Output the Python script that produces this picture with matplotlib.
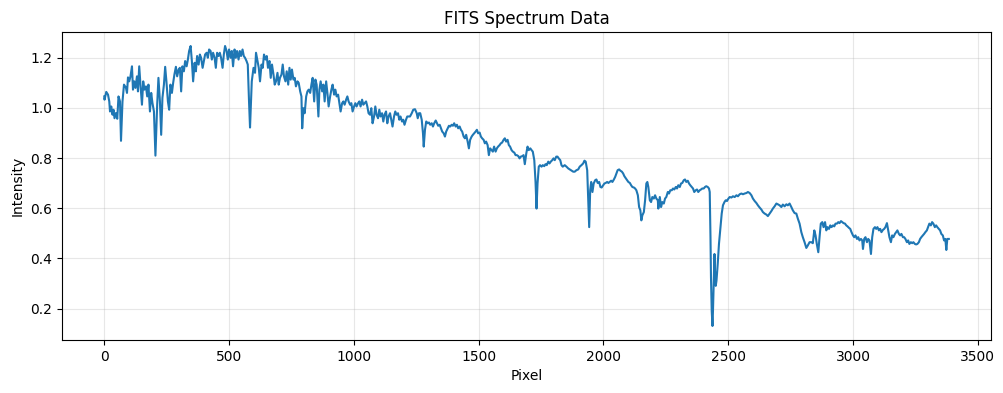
import numpy as np
import matplotlib
matplotlib.use("Agg")
import matplotlib.pyplot as plt

# Spectrum (pixel, intensity), in several segments
pix_a = [0, 1, 8, 15, 20, 23, 28, 33, 37, 41, 47, 52, 57, 63, 67, 73, 79, 87, 91, 95,
         100, 105, 111, 115, 120, 125, 131, 135, 140, 145, 151, 156, 161, 167, 172, 177,
         183, 188, 193, 199, 205, 212, 217, 223, 228, 233, 239, 244, 249, 255, 260, 265,
         271, 276, 281, 287, 292, 298, 303, 308, 313, 319, 324, 330, 335, 340, 346, 351,
         356, 362, 367, 372, 378, 383, 388, 394, 399, 404, 410, 415, 420, 426, 431, 436,
         442, 447, 452, 458, 463, 468, 474, 479, 484, 490, 495, 500, 506, 511, 516, 522,
         527, 532, 538, 543, 548, 554, 559, 564, 570, 575, 580, 584, 591, 598, 604]
int_a = [1.046, 1.033, 1.064, 1.053, 1.026, 0.986, 1.006, 0.973, 0.993, 0.959, 0.980,
         0.957, 1.046, 1.026, 0.869, 1.026, 1.093, 1.080, 1.060, 1.122, 1.106, 1.126,
         1.166, 1.073, 1.106, 1.080, 1.126, 1.066, 1.166, 1.093, 1.013, 1.106, 1.073,
         1.086, 1.046, 1.093, 0.986, 1.060, 1.020, 0.986, 0.810, 1.013, 1.120, 1.026,
         0.893, 1.040, 1.093, 1.164, 1.106, 1.026, 0.993, 1.093, 1.060, 1.100, 1.133,
         1.164, 1.126, 1.153, 1.160, 1.066, 1.166, 1.146, 1.187, 1.166, 1.193, 1.227,
         1.247, 1.187, 1.106, 1.180, 1.146, 1.207, 1.173, 1.213, 1.200, 1.160, 1.187,
         1.213, 1.220, 1.200, 1.233, 1.227, 1.193, 1.220, 1.200, 1.160, 1.220, 1.207,
         1.220, 1.200, 1.160, 1.213, 1.247, 1.227, 1.193, 1.233, 1.200, 1.227, 1.166,
         1.233, 1.200, 1.227, 1.193, 1.227, 1.207, 1.233, 1.207, 1.200, 1.187, 1.173,
         1.026, 0.922, 1.106, 1.160, 1.140]

pix_b = [608, 614, 619, 624, 630, 635, 640, 646, 651, 656, 662, 667, 672, 678, 683, 688,
         694, 699, 704, 710, 715, 720, 726, 731, 737, 742, 747, 752, 758, 763, 768, 774,
         779, 785, 790, 793, 798, 803, 809, 814, 819, 825, 830, 835, 841, 846, 851, 858,
         862, 867, 873, 878, 883, 889, 894, 899, 905, 910, 915, 921, 926, 931, 937, 942,
         947, 953, 958, 963, 969, 974, 979, 985, 990, 995, 1001, 1006, 1011, 1017, 1022,
         1027, 1033, 1038, 1043, 1049, 1054, 1059, 1065, 1070, 1075, 1081, 1086, 1091,
         1097, 1102, 1107, 1113, 1118, 1123, 1129, 1134, 1139, 1145, 1150, 1155, 1161,
         1166, 1171, 1177, 1182, 1187, 1193, 1198, 1203, 1209, 1214, 1219, 1225]
int_b = [1.220, 1.187, 1.160, 1.106, 1.173, 1.160, 1.213, 1.193, 1.207, 1.160, 1.187,
         1.120, 1.173, 1.133, 1.093, 1.106, 1.140, 1.093, 1.120, 1.133, 1.173, 1.126,
         1.106, 1.146, 1.093, 1.160, 1.113, 1.153, 1.113, 1.120, 1.086, 1.106, 1.100,
         1.066, 1.046, 0.919, 0.999, 0.979, 1.046, 1.066, 1.073, 1.060, 1.093, 1.120,
         1.026, 1.113, 1.093, 0.966, 1.073, 1.106, 1.066, 1.093, 1.026, 1.106, 1.060,
         1.006, 1.046, 1.073, 1.093, 1.053, 1.073, 1.046, 1.053, 1.019, 0.986, 1.019,
         1.026, 1.013, 1.033, 1.046, 1.026, 1.013, 1.019, 0.986, 1.006, 1.019, 1.006,
         1.019, 1.026, 1.006, 1.033, 1.013, 1.019, 1.026, 1.006, 0.979, 0.973, 0.999,
         0.939, 0.966, 1.006, 0.973, 0.959, 0.993, 0.966, 0.979, 0.946, 0.973, 0.986,
         0.939, 0.966, 0.979, 0.953, 0.926, 0.966, 0.986, 0.973, 0.979, 0.953, 0.966,
         0.946, 0.953, 0.933, 0.953, 0.966, 0.966, 0.966]

pix_c = [1232, 1238, 1245, 1252, 1256, 1261, 1266, 1272, 1277, 1280, 1285, 1290, 1296,
         1301, 1306, 1312, 1317, 1322, 1328, 1333, 1338, 1344, 1349, 1354, 1360, 1365,
         1370, 1376, 1381, 1386, 1392, 1397, 1402, 1408, 1413, 1418, 1424, 1429, 1434,
         1440, 1445, 1450, 1456, 1461, 1466, 1472, 1477, 1482, 1488, 1493, 1498, 1504,
         1509, 1514, 1520, 1525, 1530, 1536, 1541, 1546, 1552, 1557, 1562, 1568, 1573,
         1578, 1584, 1589, 1594, 1600, 1605, 1610, 1616, 1621, 1626, 1632, 1637, 1643,
         1648, 1653, 1659, 1664, 1669, 1675, 1680, 1685, 1691, 1696, 1701, 1707, 1712,
         1717, 1723, 1728, 1732, 1736, 1741, 1746, 1752, 1757, 1763, 1768, 1773, 1779,
         1784, 1789, 1795, 1800, 1805, 1811, 1816, 1821, 1827, 1832, 1837, 1845]
int_c = [0.979, 0.993, 0.995, 0.979, 0.959, 0.979, 0.979, 0.953, 0.899, 0.846, 0.913,
         0.946, 0.939, 0.942, 0.933, 0.939, 0.926, 0.939, 0.950, 0.939, 0.929, 0.933,
         0.919, 0.906, 0.899, 0.886, 0.906, 0.919, 0.929, 0.926, 0.933, 0.929, 0.939,
         0.926, 0.933, 0.919, 0.926, 0.913, 0.906, 0.886, 0.879, 0.893, 0.866, 0.839,
         0.873, 0.886, 0.893, 0.899, 0.906, 0.913, 0.899, 0.902, 0.886, 0.879, 0.873,
         0.859, 0.866, 0.852, 0.812, 0.839, 0.832, 0.826, 0.846, 0.826, 0.839, 0.846,
         0.852, 0.859, 0.862, 0.873, 0.879, 0.866, 0.873, 0.852, 0.846, 0.832, 0.826,
         0.822, 0.812, 0.812, 0.808, 0.799, 0.806, 0.808, 0.812, 0.776, 0.819, 0.846,
         0.832, 0.839, 0.832, 0.826, 0.792, 0.705, 0.599, 0.699, 0.766, 0.772, 0.766,
         0.772, 0.768, 0.776, 0.772, 0.786, 0.779, 0.786, 0.792, 0.799, 0.792, 0.806,
         0.806, 0.799, 0.792, 0.772, 0.766, 0.772]

pix_d = [1852, 1859, 1865, 1872, 1879, 1885, 1892, 1899, 1905, 1912, 1919, 1924, 1929,
         1935, 1939, 1943, 1947, 1951, 1956, 1961, 1967, 1972, 1977, 1983, 1988, 1993,
         1999, 2004, 2009, 2015, 2020, 2025, 2031, 2036, 2042, 2047, 2052, 2057, 2063,
         2068, 2074, 2079, 2084, 2090, 2095, 2100, 2106, 2111, 2116, 2122, 2127, 2132,
         2138, 2143, 2148, 2152, 2156, 2162, 2167, 2172, 2176, 2180, 2186, 2191, 2196,
         2202, 2207, 2212, 2218, 2220, 2226, 2231, 2236, 2242, 2247, 2252, 2258, 2263,
         2268, 2274, 2279, 2284, 2290, 2295, 2300, 2306, 2311, 2316, 2322, 2327, 2332,
         2338, 2343, 2348, 2354, 2359, 2364, 2370, 2375, 2380, 2386, 2391, 2396, 2402,
         2407, 2412, 2418, 2423, 2426]
int_d = [0.766, 0.759, 0.755, 0.750, 0.746, 0.746, 0.752, 0.755, 0.766, 0.772, 0.779,
         0.790, 0.786, 0.752, 0.632, 0.525, 0.672, 0.705, 0.665, 0.699, 0.712, 0.715,
         0.701, 0.705, 0.685, 0.683, 0.692, 0.699, 0.701, 0.705, 0.701, 0.705, 0.710,
         0.705, 0.715, 0.725, 0.739, 0.752, 0.755, 0.750, 0.746, 0.739, 0.728, 0.719,
         0.712, 0.705, 0.701, 0.692, 0.685, 0.683, 0.679, 0.672, 0.652, 0.605, 0.592,
         0.552, 0.572, 0.585, 0.632, 0.699, 0.705, 0.685, 0.632, 0.625, 0.645, 0.639,
         0.652, 0.639, 0.632, 0.599, 0.645, 0.605, 0.625, 0.619, 0.639, 0.645, 0.665,
         0.659, 0.672, 0.672, 0.679, 0.675, 0.685, 0.679, 0.692, 0.685, 0.699, 0.701,
         0.712, 0.715, 0.705, 0.710, 0.699, 0.692, 0.685, 0.679, 0.665, 0.672, 0.675,
         0.665, 0.672, 0.675, 0.679, 0.679, 0.685, 0.688, 0.685, 0.679, 0.665]

pix_e = [2429, 2431, 2434, 2437, 2439, 2442, 2445, 2447, 2450, 2453, 2458, 2463, 2469,
         2474, 2479, 2485, 2490, 2495, 2501, 2506, 2513, 2519, 2526, 2533, 2539, 2546,
         2553, 2559, 2566, 2573, 2579, 2586, 2593, 2599, 2606, 2613, 2619, 2626, 2633,
         2639, 2646, 2653, 2659, 2666, 2673, 2679, 2686, 2693, 2699, 2706, 2713, 2719,
         2726, 2733, 2739, 2746, 2753, 2759, 2766, 2773, 2779, 2786, 2793, 2799, 2806,
         2813, 2819, 2826, 2833, 2839, 2845, 2850, 2855, 2861]
int_e = [0.485, 0.325, 0.191, 0.131, 0.191, 0.298, 0.418, 0.351, 0.291, 0.311, 0.378,
         0.458, 0.525, 0.579, 0.612, 0.625, 0.632, 0.629, 0.639, 0.645, 0.643, 0.648,
         0.645, 0.652, 0.648, 0.656, 0.659, 0.656, 0.659, 0.661, 0.665, 0.661, 0.652,
         0.639, 0.629, 0.621, 0.612, 0.603, 0.595, 0.585, 0.579, 0.575, 0.569, 0.579,
         0.589, 0.599, 0.608, 0.619, 0.616, 0.612, 0.605, 0.615, 0.608, 0.616, 0.612,
         0.619, 0.605, 0.592, 0.581, 0.579, 0.559, 0.539, 0.505, 0.485, 0.465, 0.442,
         0.452, 0.465, 0.465, 0.461, 0.512, 0.492, 0.458, 0.425]

pix_f = [2866, 2871, 2877, 2882, 2888, 2893, 2898, 2904, 2909, 2914, 2920, 2925, 2930,
         2936, 2941, 2946, 2952, 2957, 2962, 2968, 2973, 2978, 2984, 2989, 2994, 3000,
         3005, 3010, 3016, 3021, 3026, 3032, 3037, 3040, 3045, 3050, 3056, 3061, 3066,
         3072, 3077, 3082, 3088, 3093, 3098, 3104, 3109, 3114, 3120, 3125, 3130, 3136,
         3141, 3146, 3152, 3157, 3162, 3168, 3173, 3178, 3184, 3189, 3194, 3200, 3205,
         3210, 3216, 3221, 3226, 3232, 3237, 3242, 3248, 3253, 3258, 3264, 3269, 3274,
         3280, 3285, 3290, 3296, 3301, 3306, 3312, 3317, 3322, 3328, 3333, 3338, 3344,
         3349, 3354, 3360, 3365, 3370, 3374, 3378, 3384]
int_f = [0.485, 0.539, 0.545, 0.525, 0.545, 0.512, 0.525, 0.518, 0.532, 0.525, 0.532,
         0.528, 0.539, 0.539, 0.545, 0.541, 0.549, 0.545, 0.541, 0.539, 0.532, 0.528,
         0.522, 0.518, 0.505, 0.492, 0.485, 0.492, 0.478, 0.485, 0.472, 0.478, 0.472,
         0.438, 0.478, 0.485, 0.465, 0.478, 0.472, 0.418, 0.485, 0.518, 0.525, 0.518,
         0.525, 0.512, 0.518, 0.505, 0.514, 0.518, 0.525, 0.541, 0.512, 0.485, 0.465,
         0.492, 0.485, 0.498, 0.505, 0.512, 0.498, 0.492, 0.498, 0.485, 0.485, 0.478,
         0.465, 0.472, 0.458, 0.465, 0.461, 0.465, 0.458, 0.456, 0.458, 0.465, 0.478,
         0.485, 0.492, 0.498, 0.505, 0.512, 0.525, 0.539, 0.532, 0.545, 0.539, 0.525,
         0.532, 0.525, 0.518, 0.512, 0.498, 0.492, 0.472, 0.478, 0.434, 0.478, 0.478]

pixels = np.concatenate([pix_a, pix_b, pix_c, pix_d, pix_e, pix_f])
intensity = np.concatenate([int_a, int_b, int_c, int_d, int_e, int_f])

fig, ax = plt.subplots(figsize=(10.04, 3.93), dpi=100)
fig.subplots_adjust(left=0.0618, right=0.9871, top=0.9186, bottom=0.1349)
ax.plot(pixels, intensity, color="#1f77b4", linewidth=1.5)
ax.set_title("FITS Spectrum Data")
ax.set_xlabel("Pixel")
ax.set_ylabel("Intensity")
ax.grid(True, alpha=0.3)
fig.savefig("out.png", dpi=100)
